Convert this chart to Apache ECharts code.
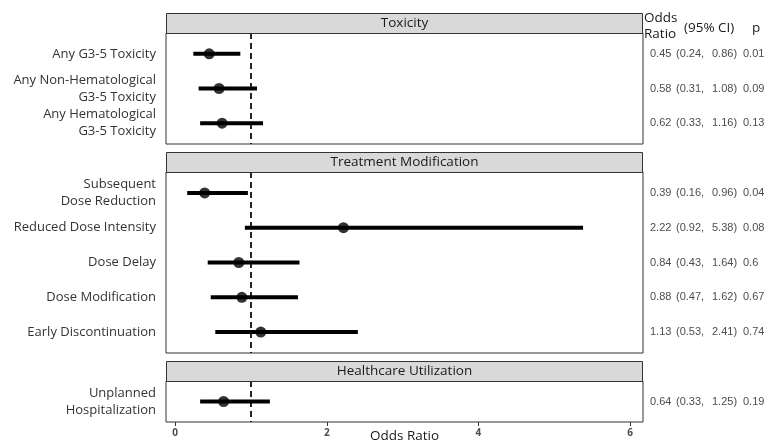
<!DOCTYPE html>
<html>
<head>
<meta charset="utf-8">
<script src="https://cdn.jsdelivr.net/npm/echarts@6/dist/echarts.min.js"></script>
<style>html,body{margin:0;padding:0;background:#fff}#c{width:771px;height:441px}</style>
</head>
<body>
<div id="c"></div>
<script>
// ---- data ----
const panels = ['Toxicity', 'Treatment Modification', 'Healthcare Utilization'];
const outcomes = [
  'Any G3-5 Toxicity',
  'Any Non-Hematological\nG3-5 Toxicity',
  'Any Hematological\nG3-5 Toxicity',
  'Subsequent\nDose Reduction',
  'Reduced Dose Intensity',
  'Dose Delay',
  'Dose Modification',
  'Early Discontinuation',
  'Unplanned\nHospitalization'
];
const groups = ['Toxicity', 'Toxicity', 'Toxicity',
  'Treatment Modification', 'Treatment Modification', 'Treatment Modification',
  'Treatment Modification', 'Treatment Modification', 'Healthcare Utilization'];
const oddsRatio = [0.45, 0.58, 0.62, 0.39, 2.22, 0.84, 0.88, 1.13, 0.64];
const ciLower   = [0.24, 0.31, 0.33, 0.16, 0.92, 0.43, 0.47, 0.53, 0.33];
const ciUpper   = [0.86, 1.08, 1.16, 0.96, 5.38, 1.64, 1.62, 2.41, 1.25];
const pValues   = ['0.01', '0.09', '0.13', '0.04', '0.08', '0.6', '0.67', '0.74', '0.19'];
const xTicks = [0, 2, 4, 6];
const refLine = 1;

// ---- layout (pixels) ----
const layout = [
  { strip: 13, top: 33, height: 111 },
  { strip: 152, top: 172, height: 181 },
  { strip: 361, top: 381, height: 41 }
];
const GL = 166, GR = 128;
const font = 'Open Sans';
const numFont = 'Liberation Sans';

const option = {
  animation: false,
  backgroundColor: '#fff',
  textStyle: { fontFamily: font },
  grid: [], xAxis: [], yAxis: [], series: [], graphic: []
};

panels.forEach((name, p) => {
  const idx = outcomes.map((_, i) => i).filter(i => groups[i] === name);
  const n = idx.length;
  const L = layout[p];
  const last = p === panels.length - 1;
  option.grid.push({
    left: GL, right: GR, top: L.top, height: L.height,
    outerBoundsMode: 'none', containLabel: false,
    show: true, borderColor: '#333', borderWidth: 1, backgroundColor: '#fff'
  });
  option.xAxis.push(last ? {
    type: 'value', gridIndex: p, min: -0.12, max: 6.17,
    axisLine: { show: false, onZero: false },
    axisTick: { show: true, customValues: xTicks, length: 4, lineStyle: { color: '#333' } },
    axisLabel: { customValues: xTicks, fontSize: 10, fontWeight: 'bold', color: '#4d4d4d', margin: 6 },
    splitLine: { show: false },
    name: 'Odds Ratio', nameLocation: 'middle', nameGap: 7, nameMoveOverlap: false,
    nameTextStyle: { fontSize: 13.5, color: '#1a1a1a', fontFamily: font }
  } : {
    type: 'value', gridIndex: p, min: -0.12, max: 6.17, show: false,
    axisLine: { onZero: false }, splitLine: { show: false }
  });
  const locals = idx.map((_, k) => k);
  option.yAxis.push({
    type: 'value', gridIndex: p, min: -0.6, max: n - 0.4, inverse: true,
    axisLine: { show: false, onZero: false }, axisTick: { show: false }, splitLine: { show: false },
    axisLabel: {
      customValues: locals,
      formatter: v => outcomes[idx[Math.round(v)]],
      fontSize: 13, color: '#333', lineHeight: 17, margin: 10, fontFamily: font
    }
  });
  option.yAxis.push({
    type: 'value', gridIndex: p, position: 'right', min: -0.6, max: n - 0.4, inverse: true,
    axisLine: { show: false, onZero: false }, axisTick: { show: false }, splitLine: { show: false },
    axisLabel: {
      customValues: locals,
      margin: 7,
      formatter: v => {
        const i = idx[Math.round(v)];
        return '{a|' + oddsRatio[i].toFixed(2) + '}{b|(' + ciLower[i].toFixed(2) + ',}{c|' +
          ciUpper[i].toFixed(2) + ')}{d|' + pValues[i] + '}';
      },
      rich: {
        a: { width: 26, fontSize: 11, color: '#4d4d4d', fontFamily: numFont },
        b: { width: 36, fontSize: 11, color: '#4d4d4d', fontFamily: numFont },
        c: { width: 31, fontSize: 11, color: '#4d4d4d', fontFamily: numFont },
        d: { fontSize: 11, color: '#4d4d4d', fontFamily: numFont }
      }
    }
  });
  option.series.push({
    type: 'custom', xAxisIndex: p, yAxisIndex: 2 * p, z: 3,
    encode: { x: [0, 1], y: 2 },
    data: idx.map((i, k) => [ciLower[i], ciUpper[i], k]),
    renderItem: (params, api) => {
      const a = api.coord([api.value(0), api.value(2)]);
      const b = api.coord([api.value(1), api.value(2)]);
      return { type: 'line', shape: { x1: a[0], y1: a[1], x2: b[0], y2: b[1] },
        style: { stroke: '#000', lineWidth: 4 } };
    }
  });
  option.series.push({
    type: 'scatter', xAxisIndex: p, yAxisIndex: 2 * p, z: 4,
    symbolSize: 11, itemStyle: { color: '#000' },
    data: idx.map((i, k) => [oddsRatio[i], k]),
    markLine: {
      silent: true, symbol: 'none', label: { show: false },
      lineStyle: { color: '#000', type: [6, 4], width: 1.7 },
      data: [{ xAxis: refLine }]
    }
  });
  // facet strip
  option.graphic.push({
    type: 'rect', shape: { x: GL + 0.5, y: L.strip + 0.5, width: 771 - GL - GR - 1, height: L.top - L.strip },
    style: { fill: '#d9d9d9', stroke: '#333', lineWidth: 1 }, z: 10
  });
  option.graphic.push({
    type: 'text', x: GL + (771 - GL - GR) / 2, y: L.strip + (L.top - L.strip) / 2 + 0.5, z: 11,
    style: { text: name, fontSize: 13.5, fill: '#1a1a1a', fontFamily: font, textAlign: 'center', textVerticalAlign: 'middle' }
  });
});

// column headers
option.graphic.push({
  type: 'text', x: 644, y: 10, z: 11,
  style: { text: 'Odds\nRatio', fontSize: 13.5, lineHeight: 16, fill: '#1a1a1a', fontFamily: font, textAlign: 'left', textVerticalAlign: 'top' }
});
option.graphic.push({
  type: 'text', x: 684, y: 28, z: 11,
  style: { text: '(95% CI)', fontSize: 13.5, fill: '#1a1a1a', fontFamily: font, textAlign: 'left', textVerticalAlign: 'middle' }
});
option.graphic.push({
  type: 'text', x: 752, y: 28, z: 11,
  style: { text: 'p', fontSize: 13.5, fill: '#1a1a1a', fontFamily: font, textAlign: 'left', textVerticalAlign: 'middle' }
});

const chart = echarts.init(document.getElementById('c'), null, { renderer: 'canvas' });
chart.setOption(option);
</script>
</body>
</html>
